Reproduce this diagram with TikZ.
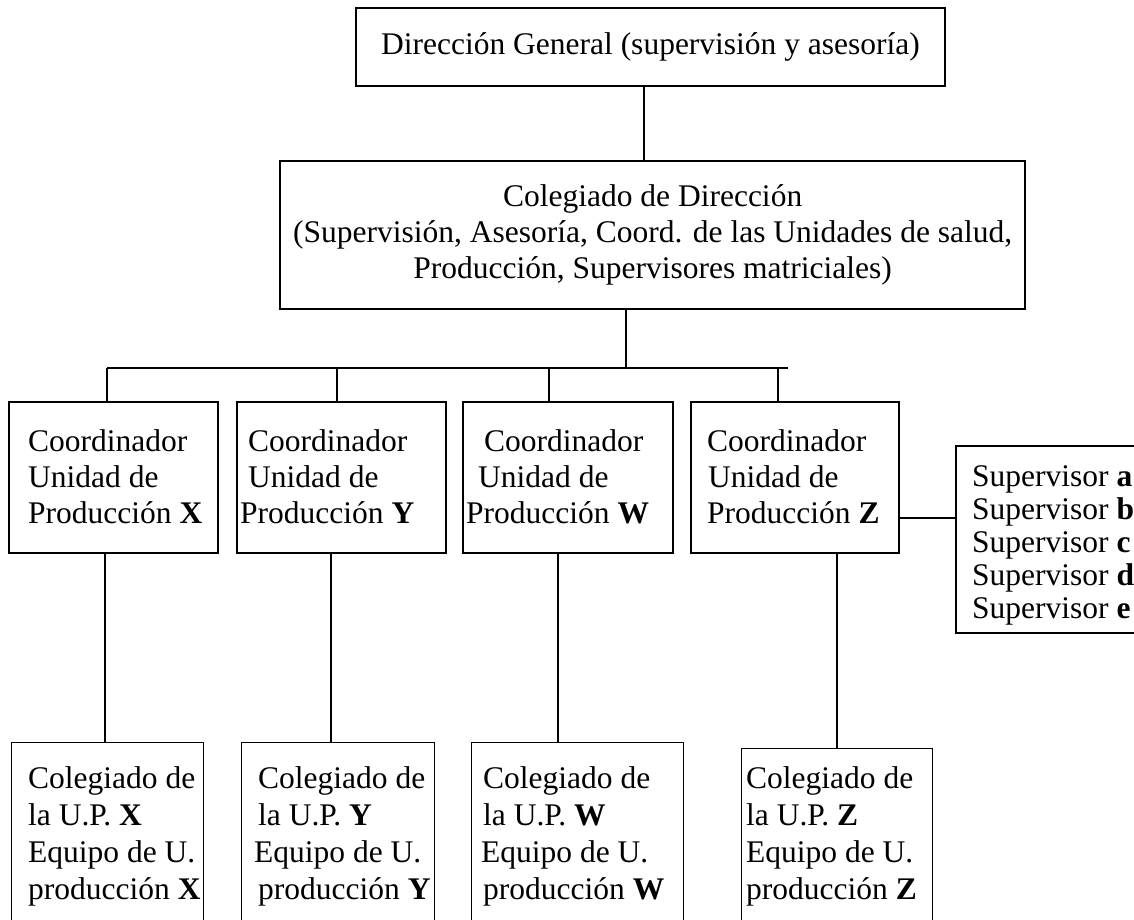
\documentclass[tikz,border=0pt]{standalone}
\usepackage{fontspec}
\setmainfont{Liberation Serif}
\begin{document}
\begin{tikzpicture}[x=1pt,y=-1pt,
  every node/.style={font=\fontsize{31.5}{36}\selectfont},
  thickbox/.style={draw, line width=2.2pt, inner sep=0},
  thinbox/.style={draw, line width=1.3pt, inner sep=0},
  txt/.style={align=left, inner sep=0, anchor=north west},
  btxt/.style={align=left, inner sep=0, anchor=north west, font=\fontsize{31.5}{37}\selectfont},
  stxt/.style={align=left, inner sep=0, anchor=north west, font=\fontsize{31.5}{33}\selectfont},
  conn/.style={line width=1.8pt}]
\useasboundingbox (0,0) rectangle (1134,920);
\clip (0,0) rectangle (1134,920);
\fill[white] (0,0) rectangle (1134,920);

% top
\node[thickbox, minimum height=78, inner xsep=25, anchor=west] (dg) at (355,47) {Dirección General (supervisión y asesoría)};
\node[thickbox, align=center, inner xsep=13, minimum height=148, anchor=north west] (cd) at (279,160)
  {Colegiado de Dirección\\(Supervisión, Asesoría, Coord. de las Unidades de salud,\\Producción, Supervisores matriciales)};
\coordinate (tc) at (644,100);
\draw[conn] (dg.south -| tc) -- (cd.north -| tc);

% bus
\coordinate (bc) at (626,368);
\coordinate (bl) at (107,368);
\coordinate (br) at (788,368);
\coordinate (d2) at (337,368);
\coordinate (d3) at (549,368);
\coordinate (d4) at (778,368);
\draw[conn] (cd.south -| bc) -- (bc);
\draw[conn] (bl) -- (br);

% coordinators
\node[thickbox, minimum width=209, minimum height=151, anchor=north west] (c1) at (8,401) {};
\node[thickbox, minimum width=209, minimum height=151, anchor=north west] (c2) at (236,401) {};
\node[thickbox, minimum width=210, minimum height=151, anchor=north west] (c3) at (462,401) {};
\node[thickbox, minimum width=208, minimum height=151, anchor=north west] (c4) at (690,401) {};
\draw[conn] (bl) -- (bl |- c1.north);
\draw[conn] (d2) -- (d2 |- c2.north);
\draw[conn] (d3) -- (d3 |- c3.north);
\draw[conn] (d4) -- (d4 |- c4.north);

\node[txt] (t1) at ([shift={(20,28)}]c1.north west) {Coordinador\\Unidad de\\Producción \textbf{X}};
\node[txt] (t2) at ([shift={(4,28)}]c2.north west) {\hspace*{8pt}Coordinador\\\hspace*{8pt}Unidad de\\Producción \textbf{Y}};
\node[txt] (t3) at ([shift={(4,28)}]c3.north west) {\hspace*{18pt}Coordinador\\\hspace*{12pt}Unidad de\\Producción \textbf{W}};
\node[txt] (t4) at ([shift={(17,28)}]c4.north west) {Coordinador\\\hspace*{1pt}Unidad de\\Producción \textbf{Z}};

% supervisors
\node[thickbox, minimum width=260, minimum height=187, anchor=north west] (sp) at (955,445) {};
\node[stxt] (st) at ([shift={(17,20)}]sp.north west)
  {Supervisor \textbf{a}\\Supervisor \textbf{b}\\Supervisor \textbf{c}\\Supervisor \textbf{d}\\Supervisor \textbf{e}};
\coordinate (sj) at (955,518);
\draw[conn] (c4.east |- sj) -- (sj -| sp.west);

% bottom boxes
\node[thinbox, minimum width=192, minimum height=200, anchor=north west] (b1) at (11,742) {};
\node[thinbox, minimum width=193, minimum height=200, anchor=north west] (b2) at (241,742) {};
\node[thinbox, minimum width=212, minimum height=200, anchor=north west] (b3) at (471,742) {};
\node[thinbox, minimum width=191, minimum height=200, anchor=north west] (b4) at (741,748) {};

\coordinate (v1) at (105,600);
\coordinate (v2) at (331,600);
\coordinate (v3) at (558,600);
\coordinate (v4) at (837,600);
\draw[conn] (c1.south -| v1) -- (b1.north -| v1);
\draw[conn] (c2.south -| v2) -- (b2.north -| v2);
\draw[conn] (c3.south -| v3) -- (b3.north -| v3);
\draw[conn] (c4.south -| v4) -- (b4.north -| v4);

\node[btxt] (bt1) at (28,766.5) {Colegiado de\\la U.P. \textbf{X}\\Equipo de U.\\producción \textbf{X}};
\node[btxt] (bt2) at (254,766.5) {\hspace*{4pt}Colegiado de\\\hspace*{4pt}la U.P. \textbf{Y}\\Equipo de U.\\\hspace*{4pt}producción \textbf{Y}};
\node[btxt] (bt3) at (481,766.5) {\hspace*{2pt}Colegiado de\\\hspace*{2pt}la U.P. \textbf{W}\\Equipo de U.\\\hspace*{2pt}producción \textbf{W}};
\node[btxt] (bt4) at (746,766.5) {Colegiado de\\la U.P. \textbf{Z}\\Equipo de U.\\producción \textbf{Z}};
\end{tikzpicture}
\end{document}
